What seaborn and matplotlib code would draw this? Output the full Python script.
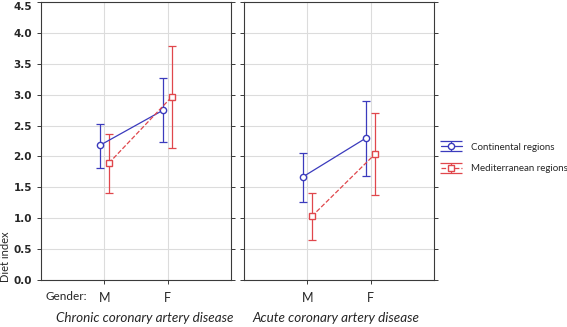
import numpy as np
import pandas as pd
import seaborn as sns
import matplotlib.pyplot as plt

# values
genders = ['M', 'F']
regions = ['Continental regions', 'Mediterranean regions']
diseases = ['Chronic coronary artery disease', 'Acute coronary artery disease']

chronic_cont_mean = [2.18, 2.75]
chronic_cont_lo = [1.82, 2.24]
chronic_cont_hi = [2.53, 3.27]
chronic_med_mean = [1.89, 2.97]
chronic_med_lo = [1.41, 2.14]
chronic_med_hi = [2.37, 3.78]

acute_cont_mean = [1.67, 2.30]
acute_cont_lo = [1.27, 1.69]
acute_cont_hi = [2.06, 2.90]
acute_med_mean = [1.03, 2.04]
acute_med_lo = [0.65, 1.37]
acute_med_hi = [1.41, 2.71]

colors = ['#3b3bbd', '#e0474c']

rows = []
series = {
    (diseases[0], regions[0]): (chronic_cont_mean, chronic_cont_lo, chronic_cont_hi),
    (diseases[0], regions[1]): (chronic_med_mean, chronic_med_lo, chronic_med_hi),
    (diseases[1], regions[0]): (acute_cont_mean, acute_cont_lo, acute_cont_hi),
    (diseases[1], regions[1]): (acute_med_mean, acute_med_lo, acute_med_hi),
}
for (dis, reg), (m, lo, hi) in series.items():
    for g, a, b, c in zip(genders, m, lo, hi):
        rows.append(dict(disease=dis, region=reg, gender=g, mean=a, lo=b, hi=c))
df = pd.DataFrame(rows)

sns.set_style('white')
plt.rcParams['font.family'] = ['Lato', 'DejaVu Sans']

fig = plt.figure(figsize=(5.67, 3.27), dpi=100)
ax1 = fig.add_axes([41 / 567, 1 - 280 / 327, 190 / 567, 278 / 327])
ax2 = fig.add_axes([244 / 567, 1 - 280 / 327, 190 / 567, 278 / 327])

handles = []
for ax, dis in zip([ax1, ax2], diseases):
    sub = df[df['disease'] == dis]
    sns.pointplot(data=sub, x='gender', y='mean', hue='region', order=genders,
                  hue_order=regions, palette=colors, dodge=0.14, errorbar=None,
                  markers=['o', 's'], linestyles=['-', '--'], legend=False,
                  markersize=4.5, linewidth=0.9, markerfacecolor='white',
                  markeredgewidth=1.0, ax=ax, zorder=3)
    for line, reg, col in zip(ax.lines[:2], regions, colors):
        s = sub[sub['region'] == reg].set_index('gender').loc[genders]
        xs = line.get_xdata()
        ax.errorbar(xs, s['mean'], yerr=[s['mean'] - s['lo'], s['hi'] - s['mean']],
                    fmt='none', ecolor=col, elinewidth=0.9, capsize=2.6,
                    capthick=0.9, zorder=2)
    ax.set_xlim(-1, 2)
    ax.set_ylim(0, 4.5)
    ax.set_yticks(np.arange(0, 4.51, 0.5))
    ax.set_xlabel('')
    ax.set_ylabel('')
    ax.grid(True, color='#dcdcdc', linewidth=0.8)
    ax.set_axisbelow(True)
    for sp in ax.spines.values():
        sp.set_color('#3a3a3a')
        sp.set_linewidth(0.8)
    ax.tick_params(axis='both', which='both', direction='out', length=3,
                   width=0.7, color='#3a3a3a', left=True, bottom=True, right=True)
    ax.tick_params(axis='x', labelsize=9, pad=6)
    ax.tick_params(axis='y', labelsize=7.5)
    for t in ax.get_yticklabels():
        t.set_fontweight('bold')
        t.set_family('DejaVu Sans')
    ax.get_yticklabels()[-1].set_va('top')
    ax.set_title('')

ax2.tick_params(axis='y', labelleft=False)

# legend handles built from the series styles (nan data, nothing drawn on axes)
for reg, col, mk, ls in zip(regions, colors, ['o', 's'], ['-', '--']):
    h = ax2.errorbar([np.nan], [np.nan], yerr=[[1.0], [1.0]], fmt=mk, linestyle=ls,
                     color=col, ecolor=col, markerfacecolor='white', markersize=4.5,
                     linewidth=0.9, capsize=8, capthick=0.9)
    handles.append(h)
fig.legend(handles, regions, loc='center left', bbox_to_anchor=(432 / 567, 1 - 158 / 327),
           frameon=False, fontsize=7, handlelength=2.2, labelspacing=1.3,
           handletextpad=0.9)

fig.text(6 / 567, 1 - 257 / 327, 'Diet index', rotation=90, ha='center', va='center',
         fontsize=8)
fig.text(45 / 567, 1 - 297 / 327, 'Gender:', ha='left', va='center', fontsize=8.5)
fig.text(145 / 567, 1 - 318 / 327, diseases[0], ha='center', va='center',
         fontsize=9.7, style='italic')
fig.text(336 / 567, 1 - 318 / 327, diseases[1], ha='center', va='center',
         fontsize=9.7, style='italic')

fig.savefig('out.png', dpi=100)
